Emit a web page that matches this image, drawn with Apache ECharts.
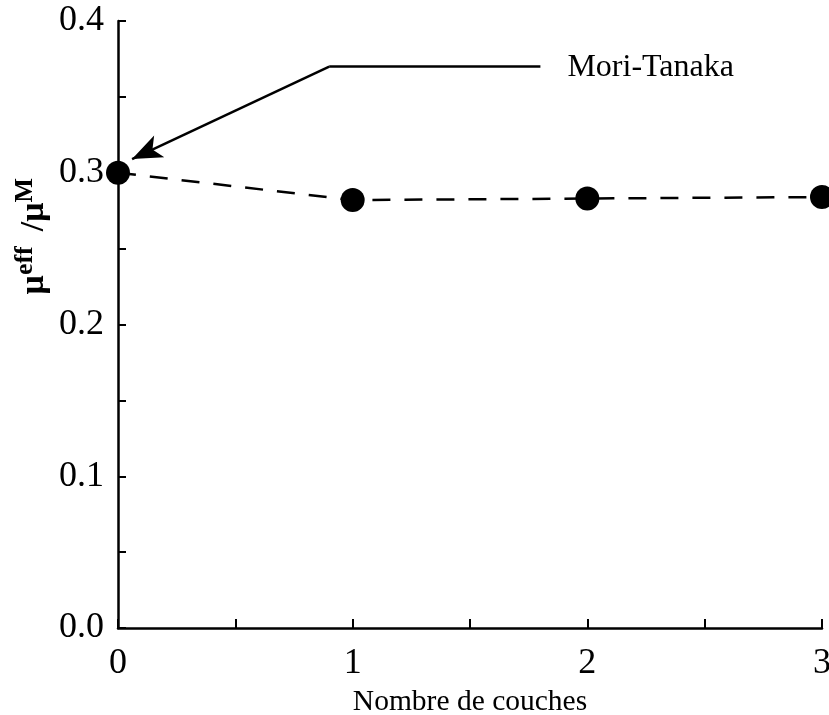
<!DOCTYPE html>
<html>
<head>
<meta charset="utf-8">
<script src="https://cdn.jsdelivr.net/npm/echarts@6/dist/echarts.min.js"></script>
<style>html,body{margin:0;padding:0;background:#fff}#c{width:829px;height:715px}</style>
</head>
<body>
<div id="c"></div>
<script>
var layers = [0, 1, 2, 3];
var ratio = [0.300, 0.282, 0.283, 0.284];
var yTicks = ['0.0', '0.1', '0.2', '0.3', '0.4'];
var xTicks = ['0', '1', '2', '3'];
var annotText = 'Mori-Tanaka';
var annotLine = [[1.80, 0.370], [0.90, 0.370]];
var annotArrow = [[0.90, 0.370], [0.06, 0.309]];
var annotLabelPos = [1.915, 0.369];

var FONT = '"Liberation Serif", "DejaVu Serif", serif';
var chart = echarts.init(document.getElementById('c'));
var pts = layers.map(function (x, i) { return [x, ratio[i]]; });

chart.setOption({
  backgroundColor: '#fff',
  animation: false,
  grid: { left: 118, right: 7, top: 21, bottom: 87, containLabel: false, outerBoundsMode: 'none' },
  xAxis: {
    type: 'value', min: 0, max: 3, interval: 0.5,
    name: 'Nombre de couches', nameLocation: 'middle', nameGap: 58,
    nameTextStyle: { fontFamily: FONT, fontSize: 29.5, color: '#000' },
    axisLine: { lineStyle: { color: '#000', width: 2.5 } },
    axisTick: { inside: true, length: 9, lineStyle: { color: '#000', width: 2 } },
    axisLabel: {
      fontFamily: FONT, fontSize: 36, color: '#000', margin: 18,
      formatter: function (v) {
        var i = xTicks.indexOf(String(v));
        return i >= 0 ? xTicks[i] : '';
      }
    },
    splitLine: { show: false }
  },
  yAxis: {
    type: 'value', min: 0, max: 0.4, interval: 0.05,
    axisLine: { show: true, lineStyle: { color: '#000', width: 2.5 } },
    axisTick: { show: true, inside: true, length: 8, lineStyle: { color: '#000', width: 2 } },
    axisLabel: {
      fontFamily: FONT, fontSize: 36, color: '#000', margin: 14,
      formatter: function (v) {
        var k = Math.round(v * 10);
        if (Math.abs(v * 10 - k) > 1e-6) return '';
        return yTicks[k];
      }
    },
    splitLine: { show: false }
  },
  graphic: [{
    type: 'text', left: 12, top: 178, rotation: Math.PI / 2,
    style: {
      text: '{m|μ}{s|eff }{m| /μ}{s|M}',
      rich: {
        m: { fontFamily: FONT, fontSize: 34, fontWeight: 'bold', fill: '#000' },
        s: { fontFamily: FONT, fontSize: 26, fontWeight: 'bold', fill: '#000', verticalAlign: 'top', padding: [0, 0, 18, 0] }
      }
    }
  }],
  series: [{
    type: 'line',
    data: pts,
    symbol: 'circle', symbolSize: 24,
    itemStyle: { color: '#000' },
    lineStyle: { color: '#000', width: 2.5, type: [18, 14] },
    z: 3,
    markLine: {
      silent: true,
      symbol: ['none', 'none'],
      lineStyle: { color: '#000', width: 2.5, type: 'solid' },
      label: { show: false },
      data: [
        [{ coord: annotLine[0], symbol: 'none' }, { coord: annotLine[1], symbol: 'none' }],
        [{ coord: annotArrow[0], symbol: 'none' }, { coord: annotArrow[1], symbol: 'arrow', symbolSize: [18, 30] }]
      ]
    }
  }, {
    type: 'scatter',
    data: [annotLabelPos],
    symbolSize: 0,
    silent: true,
    itemStyle: { opacity: 1, color: '#000' },
    label: {
      show: true, position: 'right', distance: 0,
      formatter: annotText,
      fontFamily: FONT, fontSize: 32, color: '#000', opacity: 1
    }
  }]
});
</script>
</body>
</html>
